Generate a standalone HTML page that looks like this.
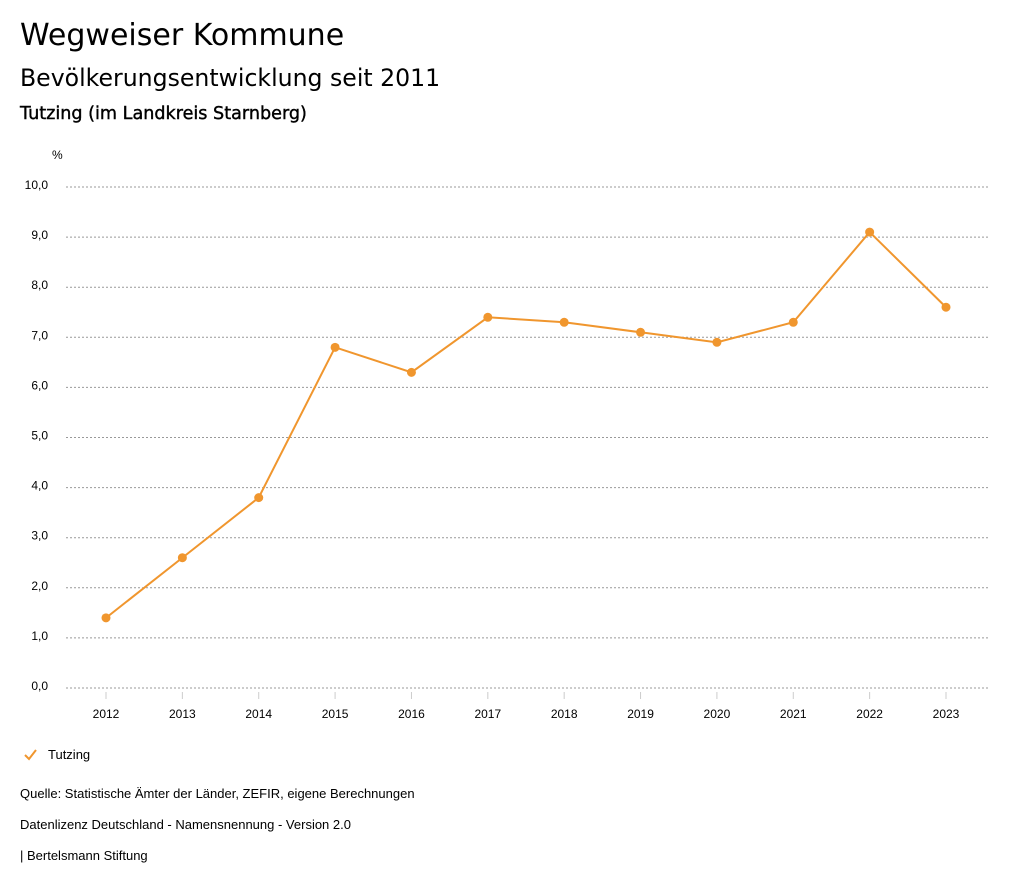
<!DOCTYPE html>
<html><head><meta charset="utf-8"><style>
body{margin:0;background:#fff;width:1024px;height:888px;overflow:hidden;font-family:"Liberation Sans",sans-serif;color:#000}
.t{position:absolute;left:20px;margin:0;white-space:nowrap}
.d{font-family:"DejaVu Sans",sans-serif}
</style></head><body>
<div class="t d" style="top:18px;font-size:30px">Wegweiser Kommune</div>
<div class="t d" style="top:64px;font-size:23.6px">Bevölkerungsentwicklung seit 2011</div>
<div class="t d" style="top:104px;font-size:17.6px;-webkit-text-stroke:0.4px #000">Tutzing (im Landkreis Starnberg)</div>
<svg id="c" width="1024" height="888" style="position:absolute;left:0;top:0" font-family="Liberation Sans, sans-serif" font-size="12"></svg>
<div class="t" style="top:786px;font-size:13px">Quelle: Statistische Ämter der Länder, ZEFIR, eigene Berechnungen</div>
<div class="t" style="top:817px;font-size:13px">Datenlizenz Deutschland - Namensnennung - Version 2.0</div>
<div class="t" style="top:848px;font-size:13px">| Bertelsmann Stiftung</div>
<script>
const years=["2012","2013","2014","2015","2016","2017","2018","2019","2020","2021","2022","2023"];
const values=[1.4,2.6,3.8,6.8,6.3,7.4,7.3,7.1,6.9,7.3,9.1,7.6];
const yTicks=[0,1,2,3,4,5,6,7,8,9,10];
const svg=document.getElementById('c');const NS='http://www.w3.org/2000/svg';
const x=i=>106+i*(946-106)/(years.length-1);
const y=v=>688-v*50.1;
function mk(t,a,p){const e=document.createElementNS(NS,t);for(const k in a)e.setAttribute(k,a[k]);(p||svg).appendChild(e);return e;}
const ul=mk('text',{x:52,y:159,'font-size':12});ul.textContent='%';


yTicks.forEach(v=>{
 const l=mk('line',{x1:66,x2:990,y1:y(v),y2:y(v),stroke:'#999','stroke-dasharray':'2,2'});
 
 
 const t=mk('text',{x:48,y:y(v)+2,'text-anchor':'end'});t.textContent=v.toFixed(1).replace('.',',');
 
 
});
years.forEach((yr,i)=>{
 const l=mk('line',{x1:x(i),x2:x(i),y1:692,y2:699,stroke:'#ccc'});
 
 
 const t=mk('text',{x:x(i),y:718,'text-anchor':'middle'});t.textContent=yr;
 
 
});
const p=mk('polyline',{points:values.map((v,i)=>x(i)+','+y(v)).join(' '),fill:'none',stroke:'#f0962e','stroke-width':2});


values.forEach((v,i)=>{
 const c=mk('circle',{cx:x(i),cy:y(v),r:4.5,fill:'#f0962e'});
 
 
});
const lg=mk('polyline',{points:'25,755 29,759 36,750',fill:'none',stroke:'#f0962e','stroke-width':2});


const lt=mk('text',{x:48,y:759,'font-size':13});lt.textContent='Tutzing';


</script>
</body></html>
